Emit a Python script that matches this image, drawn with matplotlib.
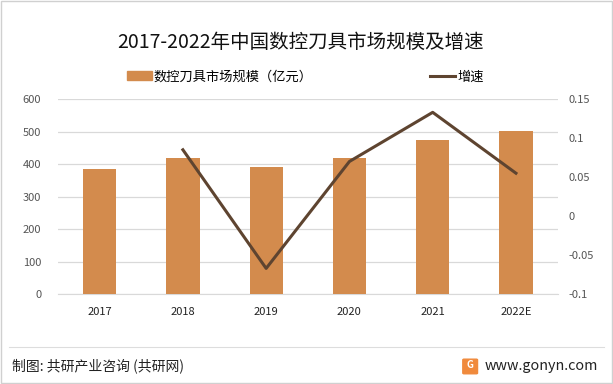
import matplotlib
matplotlib.use("Agg")
import matplotlib.pyplot as plt
from matplotlib.patches import Rectangle, FancyBboxPatch
from matplotlib.lines import Line2D

plt.rcParams['font.family'] = ['Noto Sans CJK SC', 'DejaVu Sans']

years = ['2017', '2018', '2019', '2020', '2021', '2022E']
market = [385, 420, 391, 418, 474, 501]
growth = [None, 0.085, -0.067, 0.070, 0.133, 0.055]
left_ticks = [0, 100, 200, 300, 400, 500, 600]
right_ticks = [-0.1, -0.05, 0, 0.05, 0.1, 0.15]
right_labels = ['-0.1', '-0.05', '0', '0.05', '0.1', '0.15']

bar_color = '#D38B4D'
line_color = '#5E4430'

fig = plt.figure(figsize=(6.13, 3.84), dpi=100)
ax = fig.add_axes([0.0946, 0.234, 0.815, 0.508])
x = list(range(len(years)))
ax.bar(x, market, width=0.4, color=bar_color, zorder=3, label='数控刀具市场规模（亿元）')
ax.set_ylim(0, 600)
ax.set_yticks(left_ticks)
ax.set_xlim(-0.5, len(years) - 0.5)
ax.set_xticks(x)
ax.set_xticklabels(years, fontsize=8, color='#222222')
ax.tick_params(axis='y', labelsize=8, colors='#555555', length=0, pad=12)
ax.tick_params(axis='x', length=0, pad=9)
ax.grid(axis='y', color='#D9D9D9', linewidth=0.9, zorder=0)
for s in ax.spines.values():
    s.set_visible(False)
ax.spines['bottom'].set_visible(True)
ax.spines['bottom'].set_color('#D9D9D9')

ax2 = ax.twinx()
gx = [i for i, g in enumerate(growth) if g is not None]
gy = [g for g in growth if g is not None]
ax2.plot(gx, gy, color=line_color, linewidth=2.2, zorder=4, label='增速')
ax2.set_ylim(-0.1, 0.15)
ax2.set_yticks(right_ticks)
ax2.set_yticklabels(right_labels)
ax2.tick_params(axis='y', labelsize=8, colors='#555555', length=0, pad=8)
for s in ax2.spines.values():
    s.set_visible(False)

fig.text(0.491, 0.89, '2017-2022年中国数控刀具市场规模及增速', ha='center', va='center',
         fontsize=14, color='#111111')

handles = [Rectangle((0, 0), 1, 1, color=bar_color),
           Line2D([0], [0], color=line_color, linewidth=2.2)]
fig.legend(handles, ['数控刀具市场规模（亿元）', '增速'], loc='center',
           bbox_to_anchor=(0.4976, 0.80), ncol=2, frameon=False, fontsize=9.5,
           handlelength=1.9, handleheight=0.6, columnspacing=8.9, handletextpad=0.15)

# footer
fig.add_artist(Line2D([0.015, 0.985], [1 - 347/384, 1 - 347/384], color='#DDDDDD', linewidth=0.8))
fig.text(0.02, 1 - 366/384, '制图: 共研产业咨询 (共研网)', ha='left', va='center', fontsize=10, color='#222222')
fig.text(0.975, 1 - 366/384, 'www.gonyn.com', ha='right', va='center', fontsize=10.3, color='#222222')
fig.add_artist(FancyBboxPatch((0.757, 1 - 373/384), 0.02, 0.034,
                              boxstyle='round,pad=0.002', color='#F08A3C', transform=fig.transFigure))
fig.text(0.767, 1 - 365/384, 'G', ha='center', va='center', fontsize=7, color='white', fontweight='bold')

# border
fig.add_artist(Rectangle((0.002, 0.003), 0.996, 0.994, fill=False, edgecolor='#D0D0D0',
                         linewidth=1.0, transform=fig.transFigure))

fig.savefig('out.png', dpi=100)
